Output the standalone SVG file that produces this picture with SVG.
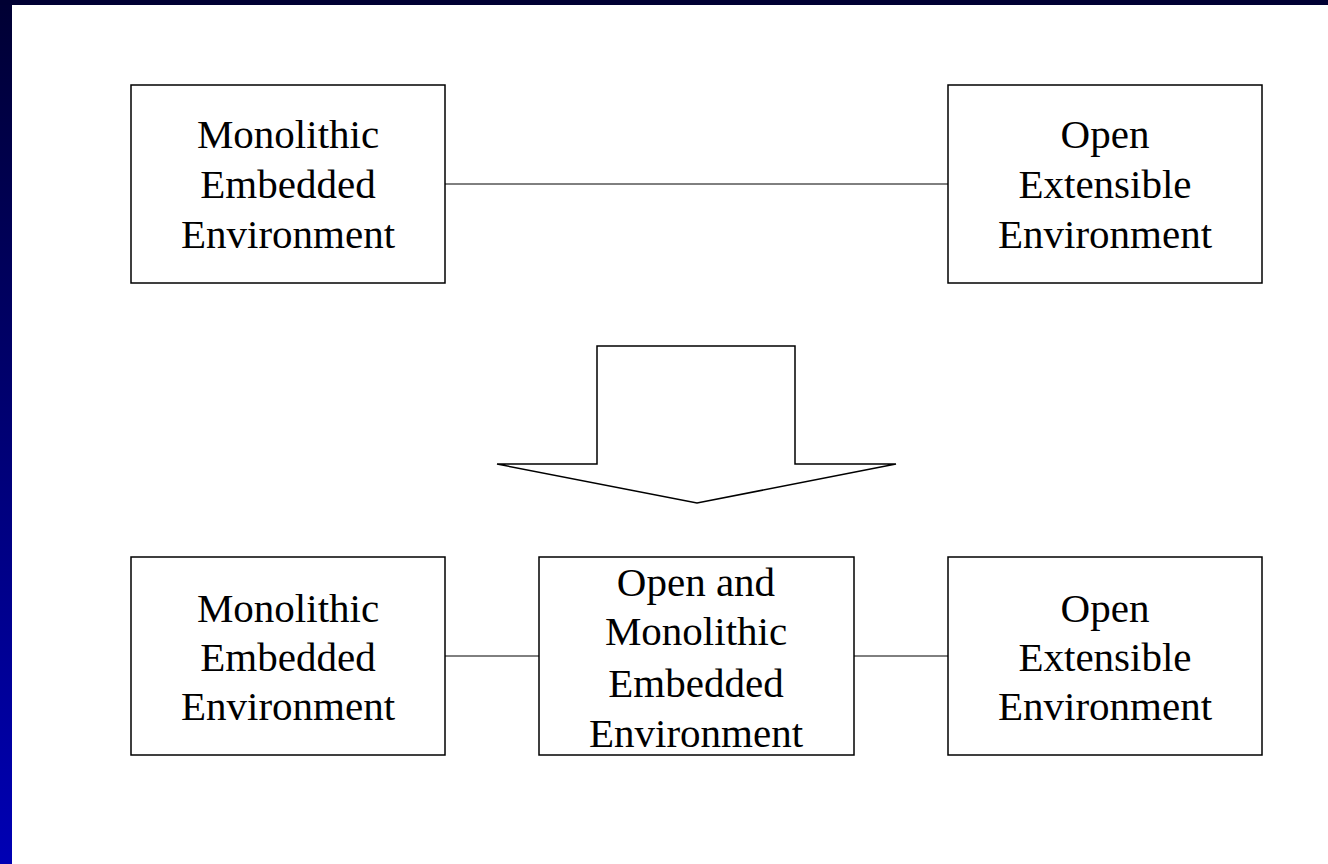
<svg xmlns="http://www.w3.org/2000/svg" width="1328" height="864" viewBox="0 0 1328 864">
<defs>
<linearGradient id="bar" x1="0" y1="0" x2="0" y2="1">
<stop offset="0" stop-color="#000033"/>
<stop offset="1" stop-color="#0000B4"/>
</linearGradient>
<style>
.box{fill:#fff;stroke:#000;stroke-width:1.5}
.lbl{font-family:"Liberation Serif","Times New Roman",serif;font-size:41px;fill:#000;text-anchor:middle}
.con{stroke:#000;stroke-width:1;fill:none}
</style>
</defs>
<rect x="0" y="0" width="1328" height="864" fill="#fff"/>
<rect x="0" y="0" width="12" height="864" fill="url(#bar)"/>
<rect x="0" y="0" width="1328" height="5" fill="#000033"/>

<g id="connectors">
<line class="con" x1="445" y1="184" x2="948" y2="184"/>
<line class="con" x1="445" y1="656" x2="539" y2="656"/>
<line class="con" x1="854" y1="656" x2="948" y2="656"/>
</g>

<g id="arrow">
<polygon points="597,346 795,346 795,464 896,464 697,503 497,464 597,464" fill="#fff" stroke="#000" stroke-width="1.5"/>
</g>

<g id="top-left">
<rect class="box" x="131" y="85" width="314" height="198"/>
<text class="lbl" x="288" y="148">Monolithic</text>
<text class="lbl" x="288" y="198">Embedded</text>
<text class="lbl" x="288" y="248">Environment</text>
</g>

<g id="top-right">
<rect class="box" x="948" y="85" width="314" height="198"/>
<text class="lbl" x="1105" y="148">Open</text>
<text class="lbl" x="1105" y="198">Extensible</text>
<text class="lbl" x="1105" y="248">Environment</text>
</g>

<g id="bottom-left">
<rect class="box" x="131" y="557" width="314" height="198"/>
<text class="lbl" x="288" y="622">Monolithic</text>
<text class="lbl" x="288" y="671">Embedded</text>
<text class="lbl" x="288" y="720">Environment</text>
</g>

<g id="bottom-middle">
<rect class="box" x="539" y="557" width="315" height="198"/>
<text class="lbl" x="696" y="596">Open and</text>
<text class="lbl" x="696" y="645">Monolithic</text>
<text class="lbl" x="696" y="697">Embedded</text>
<text class="lbl" x="696" y="747">Environment</text>
</g>

<g id="bottom-right">
<rect class="box" x="948" y="557" width="314" height="198"/>
<text class="lbl" x="1105" y="622">Open</text>
<text class="lbl" x="1105" y="671">Extensible</text>
<text class="lbl" x="1105" y="720">Environment</text>
</g>
</svg>
